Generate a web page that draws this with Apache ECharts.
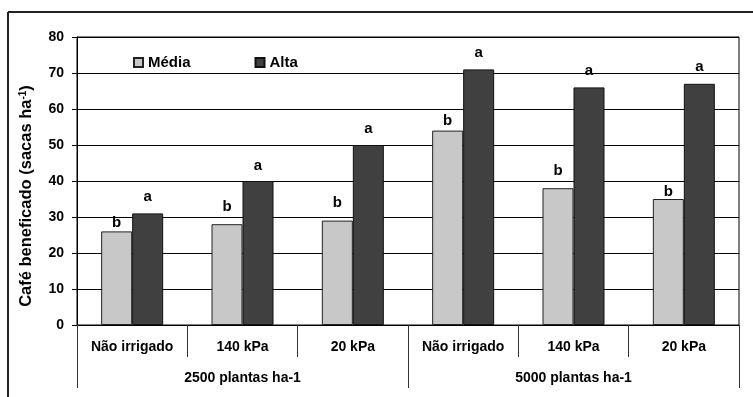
<!DOCTYPE html>
<html>
<head>
<meta charset="utf-8">
<script src="https://cdn.jsdelivr.net/npm/echarts@6/dist/echarts.min.js"></script>
<style>
html,body{margin:0;padding:0;background:#fff;}
#c{width:753px;height:397px;}
</style>
</head>
<body>
<div id="c"></div>
<script>
var categories = ['Não irrigado', '140 kPa', '20 kPa', 'Não irrigado', '140 kPa', '20 kPa'];
var groups = ['2500 plantas ha-1', '5000 plantas ha-1'];
var mediaValues = [26, 28, 29, 54, 38, 35];
var altaValues = [31, 40, 50, 71, 66, 67];
var mediaLetters = ['b', 'b', 'b', 'b', 'b', 'b'];
var altaLetters = ['a', 'a', 'a', 'a', 'a', 'a'];
var yTicks = [0, 10, 20, 30, 40, 50, 60, 70, 80];
// label distances (style only)
var mediaLabelDist = [1, 10, 10, 2, 10, 0];
var altaLabelDist = [9, 8, 9, 9, 9, 9];

var FONT = 'Liberation Sans, Arial, sans-serif';

function build(values, letters, dists) {
  return values.map(function (v, i) {
    return { value: v, label: { formatter: letters[i], distance: dists[i] } };
  });
}

var chart = echarts.init(document.getElementById('c'));
chart.setOption({
  animation: false,
  backgroundColor: '#fff',
  textStyle: { fontFamily: FONT },
  grid: { left: 77, top: 37, right: 14, bottom: 72, show: true, borderColor: '#000', borderWidth: 1, backgroundColor: 'transparent' },
  legend: {
    left: 128, top: 50,
    itemWidth: 9, itemHeight: 9, itemGap: 64,
    icon: 'rect',
    textStyle: { fontFamily: FONT, fontWeight: 'bold', fontSize: 15, color: '#000' },
    data: ['Média', 'Alta']
  },
  xAxis: [{
    type: 'category',
    data: categories,
    position: 'bottom',
    axisLine: { lineStyle: { color: '#000', width: 1 } },
    axisTick: { show: true, interval: 0, length: 32, lineStyle: { color: '#333', width: 1 } },
    axisLabel: { interval: 0, margin: 15, color: '#000', fontFamily: FONT, fontWeight: 'bold', fontSize: 14 }
  }, {
    type: 'category',
    data: groups,
    position: 'bottom',
    axisLine: { show: false },
    axisTick: { show: true, interval: 0, length: 63, lineStyle: { color: '#333', width: 1 } },
    axisLabel: { interval: 0, margin: 46, color: '#000', fontFamily: FONT, fontWeight: 'bold', fontSize: 14 }
  }],
  yAxis: {
    type: 'value',
    min: 0, max: 80, interval: 10,
    name: 'Café beneficado (sacas ha{sup|-1})',
    nameLocation: 'middle',
    nameRotate: 90,
    nameGap: 42,
    nameTextStyle: {
      fontFamily: FONT, fontWeight: 'bold', fontSize: 16.5, color: '#000',
      padding: [0, 30, 0, 0],
      rich: { sup: { fontFamily: FONT, fontWeight: 'bold', fontSize: 10, color: '#000', verticalAlign: 'top', padding: [0, 0, 7, 0] } }
    },
    axisLine: { show: true, lineStyle: { color: '#000', width: 1 } },
    axisTick: { show: true, length: 5, lineStyle: { color: '#000' } },
    axisLabel: { margin: 13, color: '#000', fontFamily: FONT, fontWeight: 'bold', fontSize: 14,
      formatter: function (v) { return yTicks.indexOf(v) >= 0 ? String(v) : ''; } },
    splitLine: { show: true, lineStyle: { color: '#000', width: 1 } }
  },
  series: [{
    name: 'Média',
    type: 'bar',
    barWidth: 31,
    barGap: '0%',
    data: build(mediaValues, mediaLetters, mediaLabelDist),
    itemStyle: { color: '#c8c8c8', borderColor: '#222', borderWidth: 1 },
    label: { show: true, position: 'top', color: '#000', fontFamily: FONT, fontWeight: 'bold', fontSize: 15 }
  }, {
    name: 'Alta',
    type: 'bar',
    barWidth: 31,
    barGap: '0%',
    data: build(altaValues, altaLetters, altaLabelDist),
    itemStyle: { color: '#404040', borderColor: '#111', borderWidth: 1 },
    label: { show: true, position: 'top', color: '#000', fontFamily: FONT, fontWeight: 'bold', fontSize: 15 }
  }],
  graphic: [
    { type: 'line', shape: { x1: 8, y1: 12, x2: 753, y2: 12 }, style: { stroke: '#222', lineWidth: 2 } },
    { type: 'line', shape: { x1: 8, y1: 12, x2: 8, y2: 397 }, style: { stroke: '#222', lineWidth: 2 } }
  ]
});
</script>
</body>
</html>
